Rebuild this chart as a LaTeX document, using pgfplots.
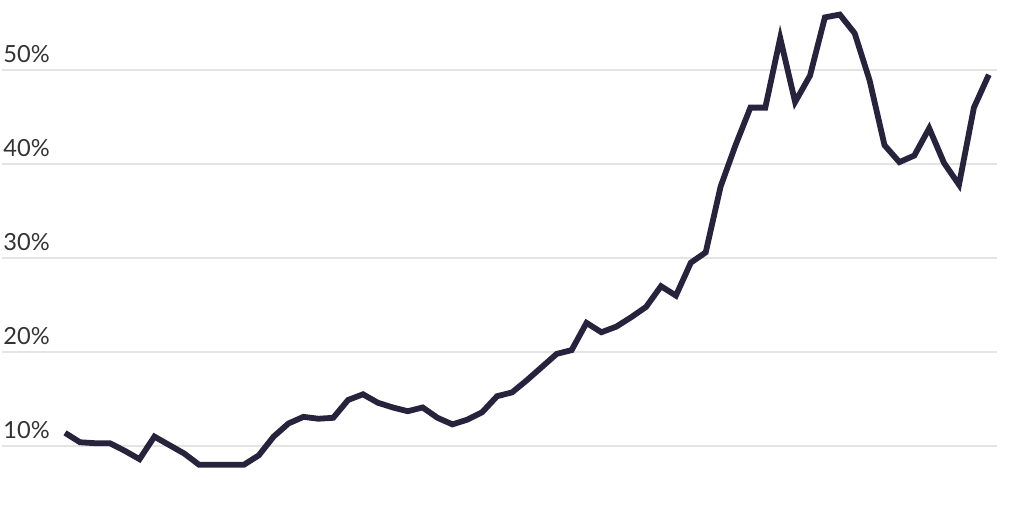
\documentclass[border=0pt]{standalone}
\usepackage{pgfplots}
\pgfplotsset{compat=1.18}
\usepackage{fontspec}
\setmainfont{Lato}
\definecolor{linec}{HTML}{28233D}
\definecolor{gridc}{HTML}{E4E4E4}
\definecolor{labc}{HTML}{333333}
\begin{document}
\begin{tikzpicture}
\path[use as bounding box] (0,0) rectangle (512pt,256pt);
\begin{axis}[at={(1pt,0pt)}, anchor=south west, scale only axis,
  width=497.5pt, height=256pt,
  xmin=-4.23, xmax=62.55, ymin=2.98, ymax=57.45,
  axis line style={draw=none}, tick style={draw=none},
  xtick=\empty, ytick={10,20,30,40,50},
  yticklabel={\pgfmathprintnumber{\tick}\%},
  /pgf/number format/assume math mode=true,
  ymajorgrids, grid style={gridc, line width=1pt},
  yticklabel style={anchor=base west, inner sep=0pt, xshift=0.5pt, yshift=3.75pt,
    font=\fontsize{11.8}{12}\selectfont, text=labc},
  clip=false]
\addplot[linec, line width=2.9pt, line join=miter, mark=none] table {
x y
0 11.4
1 10.4
2 10.3
3 10.3
4 9.5
5 8.6
6 11.0
7 10.1
8 9.2
9 8.0
10 8.0
11 8.0
12 8.0
13 9.0
14 11.0
15 12.4
16 13.1
17 12.9
18 13.0
19 14.9
20 15.5
21 14.6
22 14.1
23 13.7
24 14.1
25 13.0
26 12.3
27 12.8
28 13.6
29 15.3
30 15.7
31 17.0
32 18.4
33 19.8
34 20.2
35 23.1
36 22.1
37 22.7
38 23.7
39 24.8
40 27.0
41 26.0
42 29.5
43 30.6
44 37.6
45 42.0
46 46.0
47 46.0
48 53.4
49 46.6
50 49.4
51 55.6
52 55.9
53 53.9
54 48.9
55 42.0
56 40.2
57 40.9
58 43.8
59 40.1
60 37.8
61 46.0
62 49.5
};
\end{axis}
\end{tikzpicture}
\end{document}
